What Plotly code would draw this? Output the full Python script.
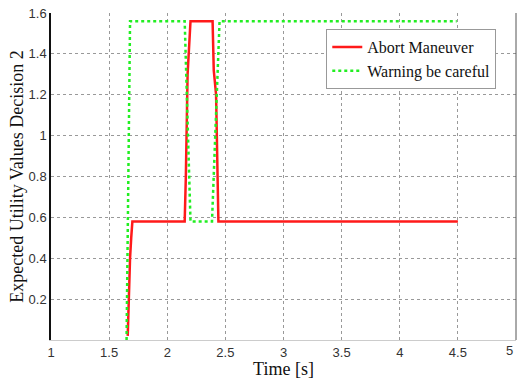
import plotly.graph_objects as go

# Abort Maneuver (red, solid)
abort_t = [1.66, 1.67, 1.68, 1.69, 1.70, 2.15, 2.16, 2.175, 2.19, 2.20, 2.39, 2.40, 2.42, 2.43, 2.44, 4.50]
abort_v = [0.02, 0.25, 0.40, 0.50, 0.58, 0.58, 0.80, 1.30, 1.45, 1.56, 1.56, 1.32, 1.20, 0.88, 0.58, 0.58]

# Warning be careful (green, dotted)
warn_t = [1.65, 1.68, 2.15, 2.20, 2.385, 2.43, 2.45, 4.49]
warn_v = [0.00, 1.56, 1.56, 0.58, 0.58, 1.30, 1.56, 1.56]

x_ticks = [1, 1.5, 2, 2.5, 3, 3.5, 4, 4.5]
y_ticks = [0.2, 0.4, 0.6, 0.8, 1, 1.2, 1.4, 1.6]
x_last_tick = 5

serif = "Liberation Serif"
sans = "Liberation Sans"

fig = go.Figure()
fig.add_trace(go.Scatter(x=abort_t, y=abort_v, mode="lines", name="Abort Maneuver",
                         line=dict(color="#ff1a1a", width=2.5)))
fig.add_trace(go.Scatter(x=warn_t, y=warn_v, mode="lines", name="Warning be careful",
                         line=dict(color="#22ee22", width=2.5, dash="dot")))

fig.update_layout(
    width=517, height=379,
    margin=dict(l=51, r=1, t=13, b=39),
    paper_bgcolor="white", plot_bgcolor="white",
    legend=dict(x=0.592, y=0.951, xanchor="left", yanchor="top",
                bgcolor="white", bordercolor="#999999", borderwidth=1,
                font=dict(family=serif, size=16, color="#111111"),
                tracegroupgap=0, itemwidth=30),
    xaxis=dict(range=[1, 5], tickvals=x_ticks + [x_last_tick], ticktext=[str(v) for v in x_ticks] + [""],
               showgrid=True, gridcolor="#999999", griddash="dot", gridwidth=1,
               showline=True, linecolor="#cccccc", linewidth=1,
               zeroline=False, ticks="", automargin=False,
               tickfont=dict(family=sans, size=13, color="#333333"),
               title=dict(text="Time [s]", font=dict(family=serif, size=18, color="#111111"),
                          standoff=0)),
    yaxis=dict(range=[0, 1.6], tickvals=y_ticks, ticktext=["0.2", "0.4", "0.6", "0.8", "1", "1.2", "1.4", "1.6"],
               showgrid=True, gridcolor="#999999", griddash="dot", gridwidth=1,
               showline=True, linecolor="#111111", linewidth=1.5,
               zeroline=False, ticks="", automargin=False,
               tickfont=dict(family=sans, size=13, color="#333333"),
               title=dict(text="Expected Utility Values Decision 2",
                          font=dict(family=serif, size=18, color="#111111"), standoff=0)),
    shapes=[dict(type="line", xref="paper", yref="paper", x0=1, x1=1, y0=0, y1=1,
                 line=dict(color="#555555", width=1))],
    annotations=[dict(x=x_last_tick, y=0, xref="x", yref="paper", text=str(x_last_tick),
                      showarrow=False, yanchor="top", xanchor="right", yshift=-1, xshift=-1,
                      font=dict(family=sans, size=13, color="#333333"))],
)

fig.write_html("out.html", config={"displayModeBar": False})

# remove default page margin so the figure sits at the window's top-left corner
with open("out.html", "r", encoding="utf-8") as f:
    html = f.read()
html = html.replace("<head>", "<head><style>html,body{margin:0;padding:0;overflow:hidden;}</style>", 1)
with open("out.html", "w", encoding="utf-8") as f:
    f.write(html)
